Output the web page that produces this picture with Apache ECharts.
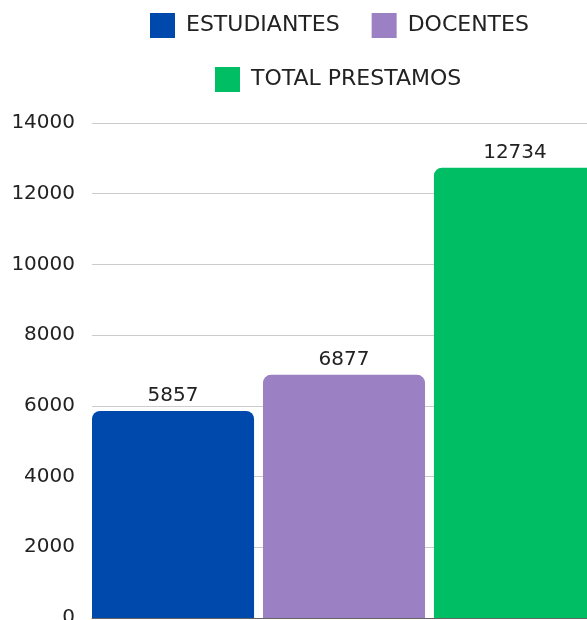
<!DOCTYPE html>
<html>
<head>
<meta charset="utf-8">
<script src="https://cdn.jsdelivr.net/npm/echarts@6/dist/echarts.min.js"></script>
<style>
  html, body { margin: 0; padding: 0; background: #fff; }
  #chart { width: 587px; height: 620px; }
</style>
</head>
<body>
<div id="chart"></div>
<script>
// datos
const categorias = ['PRESTAMOS'];
const estudiantes = [5857];
const docentes = [6877];
const totalPrestamos = [12734];
const nombres = ['ESTUDIANTES', 'DOCENTES', 'TOTAL PRESTAMOS'];

const fuente = 'DejaVu Sans';
const chart = echarts.init(document.getElementById('chart'));

// estilo comun para cada serie de barras
const serie = (nombre, datos, color) => ({
  name: nombre,
  type: 'bar',
  data: datos,
  barGap: '5.5%',
  barCategoryGap: '0%',
  itemStyle: { color: color, borderRadius: [8, 8, 0, 0] },
  label: {
    show: true,
    position: 'top',
    distance: 5,
    color: '#222',
    fontFamily: fuente,
    fontSize: 20
  }
});

const leyenda = (datos, left, top) => ({
  data: datos,
  left: left,
  top: top,
  padding: 0,
  icon: 'rect',
  itemWidth: 25,
  itemHeight: 25,
  itemGap: 32,
  textStyle: {
    color: '#222',
    fontFamily: fuente,
    fontSize: 22,
    padding: [0, 0, 0, 6]
  }
});

chart.setOption({
  animation: false,
  legend: [
    leyenda([nombres[0], nombres[1]], 150, 13),
    leyenda([nombres[2]], 215, 67)
  ],
  grid: { left: 92, right: -9, top: 123, bottom: 2, outerBoundsMode: 'none' },
  xAxis: {
    type: 'category',
    data: categorias,
    axisTick: { show: false },
    axisLabel: { show: false },
    axisLine: { lineStyle: { color: '#666' } }
  },
  yAxis: {
    type: 'value',
    min: 0,
    max: 14000,
    interval: 2000,
    axisLabel: {
      color: '#222',
      fontFamily: fuente,
      fontSize: 20,
      margin: 17,
      formatter: (v) => String(v)
    },
    splitLine: { lineStyle: { color: '#ccc' } }
  },
  series: [
    serie(nombres[0], estudiantes, '#0049ac'),
    serie(nombres[1], docentes, '#9b80c3'),
    serie(nombres[2], totalPrestamos, '#00be64')
  ]
});
</script>
</body>
</html>
